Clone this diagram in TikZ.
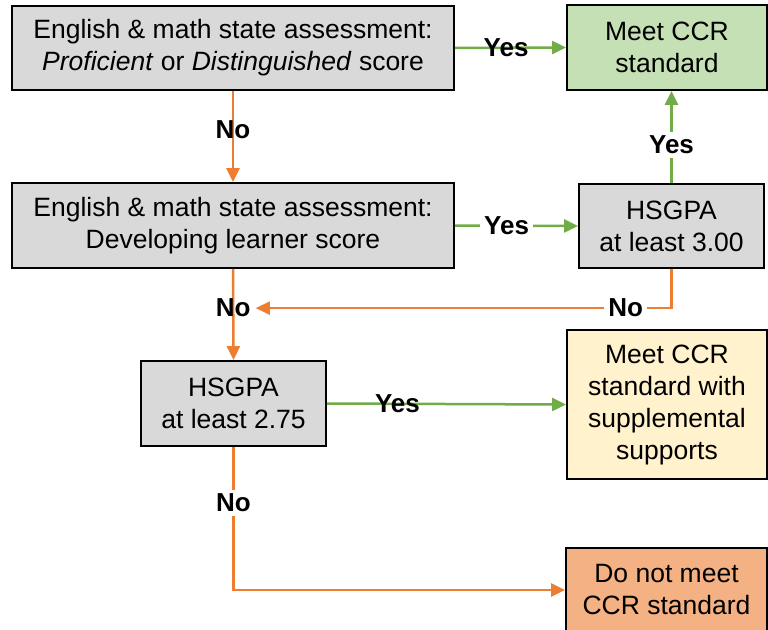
\documentclass[tikz,border=0pt]{standalone}
\usepackage{fontspec}
\setmainfont{Liberation Sans}
\usetikzlibrary{arrows.meta}
\definecolor{boxgray}{HTML}{D9D9D9}
\definecolor{boxgreen}{HTML}{C5E0B4}
\definecolor{boxyellow}{HTML}{FFF2CC}
\definecolor{boxorange}{HTML}{F4B183}
\definecolor{yesgreen}{HTML}{70AD47}
\definecolor{noorange}{HTML}{ED7D31}
\tikzset{
  box/.style={draw=black, line width=1.8pt, align=center, inner sep=0pt,
    font=\fontsize{26.5}{32}\selectfont},
  yesline/.style={draw=yesgreen, line width=2.5pt, -{Triangle[length=14pt,width=13pt]}},
  noline/.style={draw=noorange, line width=2.5pt, -{Triangle[length=14pt,width=13pt]}},
  lbl/.style={text=black, inner sep=4pt, font=\bfseries\fontsize{26}{31}\selectfont},
}

\begin{document}
\begin{tikzpicture}[x=1pt,y=-1pt]
\useasboundingbox (0,0) rectangle (768,629);
\node[box, fill=boxgray, minimum width=442pt, minimum height=84pt] (asmA) at (233,48)
  {English \& math state assessment:\\\textit{Proficient} or \textit{Distinguished} score};
\node[box, fill=boxgreen, minimum width=200pt, minimum height=85pt] (meet) at (667,47.5)
  {Meet CCR\\standard};
\node[box, fill=boxgray, minimum width=442pt, minimum height=85pt] (asmB) at (233,225.5)
  {English \& math state assessment:\\Developing learner score};
\node[box, fill=boxgray, minimum width=185pt, minimum height=84pt] (gpaA) at (671.5,226)
  {HSGPA\\at least 3.00};
\node[box, fill=boxgray, minimum width=185pt, minimum height=85pt] (gpaB) at (233.5,403.5)
  {HSGPA\\at least 2.75};
\node[box, fill=boxyellow, minimum width=200pt, minimum height=149pt] (supp) at (667,404.5)
  {Meet CCR\\standard with\\supplemental\\supports};
\node[box, fill=boxorange, minimum width=201pt, minimum height=84pt] (nomeet) at (666.5,590)
  {Do not meet\\CCR standard};

\draw[yesline] (asmA.east) -- node[lbl, pos=0.46] {Yes} (meet.west);
\draw[noline] (asmA.south) -- node[lbl, pos=0.43] {No} (asmB.north);
\draw[yesline] (asmB.east) -- node[lbl, pos=0.42, fill=white] {Yes} (gpaA.west);
\draw[yesline] (gpaA.north) -- node[lbl, pos=0.415, fill=white] {Yes} (gpaA.north |- meet.south);
\draw[noline] (asmB.south) -- node[lbl, pos=0.43] (noB) {No} (gpaB.north);
\draw[noline] (gpaA.south) |- node[lbl, pos=0.555, fill=white] {No} (noB.east);
\draw[yesline] (gpaB.east) -- node[lbl, pos=0.295] {Yes} (supp.west);
\draw[noline] (gpaB.south) |- node[lbl, pos=0.196, fill=white] {No} (nomeet.west);
\end{tikzpicture}
\end{document}
